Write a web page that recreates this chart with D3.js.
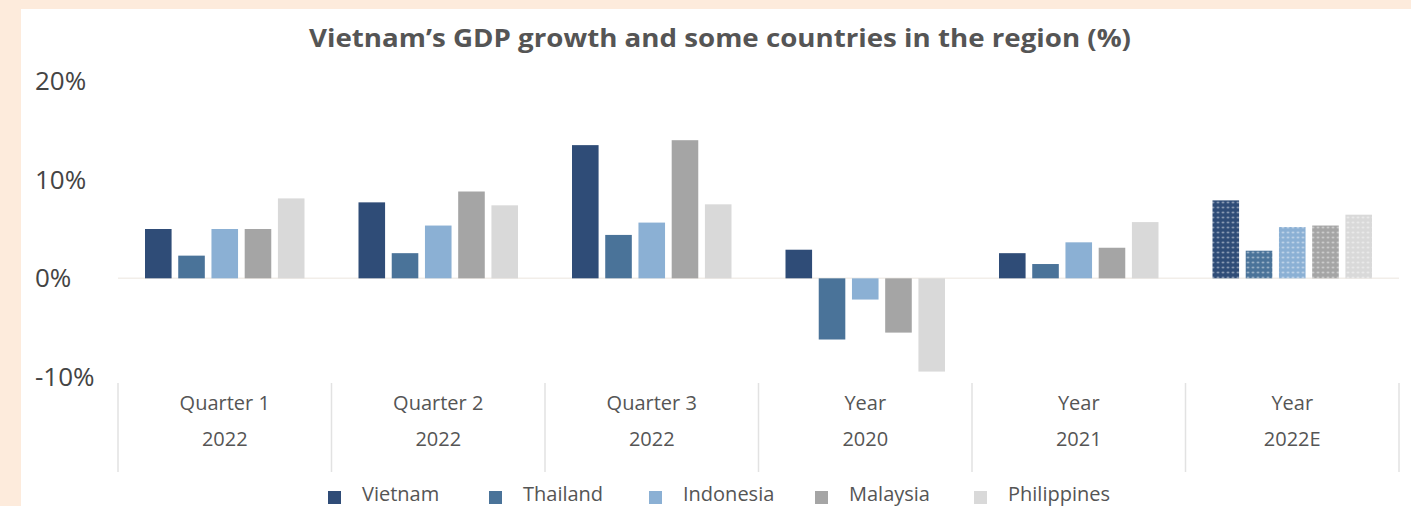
<!DOCTYPE html>
<html>
<head>
<meta charset="UTF-8">
<title>Vietnam GDP growth</title>
<script src="https://cdn.jsdelivr.net/npm/d3@7"></script>
<style>
  body { margin: 0; background: #fdebdc; }
  svg { display: block; }
  text { font-family: "Open Sans", "Lato", sans-serif; }
</style>
</head>
<body>
<script>
var groupsTop = ["Quarter 1", "Quarter 2", "Quarter 3", "Year", "Year", "Year"];
var groupsBottom = ["2022", "2022", "2022", "2020", "2021", "2022E"];
var countries = ["Vietnam", "Thailand", "Indonesia", "Malaysia", "Philippines"];
var colors = ["#2f4c77", "#4a7399", "#8bb0d4", "#a5a5a5", "#d9d9d9"];
var vietnam     = [5.0, 7.7, 13.5, 2.9, 2.55, 7.9];
var thailand    = [2.3, 2.55, 4.4, -6.2, 1.45, 2.8];
var indonesia   = [5.0, 5.35, 5.65, -2.15, 3.65, 5.2];
var malaysia    = [5.0, 8.8, 14.0, -5.5, 3.1, 5.35];
var philippines = [8.1, 7.4, 7.5, -9.45, 5.7, 6.45];
var yTicks = [-10, 0, 10, 20];
var estimateGroup = 5; // 2022E drawn with dots

var series = [vietnam, thailand, indonesia, malaysia, philippines];

var w = 1411, h = 506;
var svg = d3.select("body").append("svg").attr("width", w).attr("height", h);

// white panel
svg.append("rect").attr("x", 21).attr("y", 9).attr("width", w - 21).attr("height", h - 9).attr("fill", "#fff");

// dotted patterns for estimate bars
var defs = svg.append("defs");
colors.forEach(function(c, i){
  var p = defs.append("pattern").attr("id", "dots" + i)
    .attr("patternUnits", "userSpaceOnUse").attr("width", 5).attr("height", 5);
  p.append("rect").attr("width", 5).attr("height", 5).attr("fill", c);
  p.append("circle").attr("cx", 2.5).attr("cy", 2.5).attr("r", 1.1).attr("fill", "rgba(255,255,255,0.55)");
});

var x0 = d3.scaleBand().domain(d3.range(6)).range([118, 1399]).paddingInner(0).paddingOuter(0);
var x1 = d3.scaleBand().domain(d3.range(5)).range([27, x0.bandwidth() - 27]).paddingInner(0.2);
var y = d3.scaleLinear().domain([-10, 20]).range([377, 81]);

// title
svg.append("text").attr("x", 720).attr("y", 47).attr("text-anchor", "middle")
  .attr("font-size", 25).attr("font-weight", "bold").attr("fill", "#555")
  .attr("textLength", 822).attr("lengthAdjust", "spacingAndGlyphs")
  .text("Vietnam’s GDP growth and some countries in the region (%)");

// y tick labels
svg.selectAll(".ylab").data(yTicks).enter().append("text")
  .attr("x", 35).attr("y", function(d){ return y(d); }).attr("dy", "0.35em")
  .attr("font-size", 26).attr("fill", "#444")
  .text(function(d){ return d + "%"; });

// zero line
svg.append("line").attr("x1", 118).attr("x2", 1399).attr("y1", y(0)).attr("y2", y(0))
  .attr("stroke", "#f2eee9").attr("stroke-width", 1.5);

// bars
var g = svg.selectAll(".grp").data(d3.range(6)).enter().append("g")
  .attr("transform", function(d){ return "translate(" + x0(d) + ",0)"; });

g.selectAll("rect").data(function(gi){
    return series.map(function(s, si){ return {gi: gi, si: si, v: s[gi]}; });
  }).enter().append("rect")
  .attr("x", function(d){ return x1(d.si); })
  .attr("width", x1.bandwidth())
  .attr("y", function(d){ return y(Math.max(0, d.v)); })
  .attr("height", function(d){ return Math.abs(y(d.v) - y(0)); })
  .attr("fill", function(d){ return d.gi === estimateGroup ? "url(#dots" + d.si + ")" : colors[d.si]; });

// category separators
svg.selectAll(".sep").data(d3.range(7)).enter().append("line")
  .attr("x1", function(d){ return 118 + d * x0.bandwidth(); })
  .attr("x2", function(d){ return 118 + d * x0.bandwidth(); })
  .attr("y1", 383).attr("y2", 472)
  .attr("stroke", "#e2e2e2").attr("stroke-width", 1.5);

// category labels
g.append("text").attr("x", x0.bandwidth() / 2).attr("y", 410).attr("text-anchor", "middle")
  .attr("font-size", 20).attr("fill", "#555").text(function(d){ return groupsTop[d]; });
g.append("text").attr("x", x0.bandwidth() / 2).attr("y", 446).attr("text-anchor", "middle")
  .attr("font-size", 20).attr("fill", "#555").text(function(d){ return groupsBottom[d]; });

// legend
var legX = [328, 489, 649, 815, 974];
var leg = svg.selectAll(".leg").data(countries).enter().append("g")
  .attr("transform", function(d, i){ return "translate(" + legX[i] + ",0)"; });
leg.append("rect").attr("x", 0).attr("y", 491).attr("width", 13).attr("height", 13)
  .attr("fill", function(d, i){ return colors[i]; });
leg.append("text").attr("x", 34).attr("y", 501).attr("font-size", 20).attr("fill", "#555")
  .text(function(d){ return d; });
</script>
</body>
</html>
